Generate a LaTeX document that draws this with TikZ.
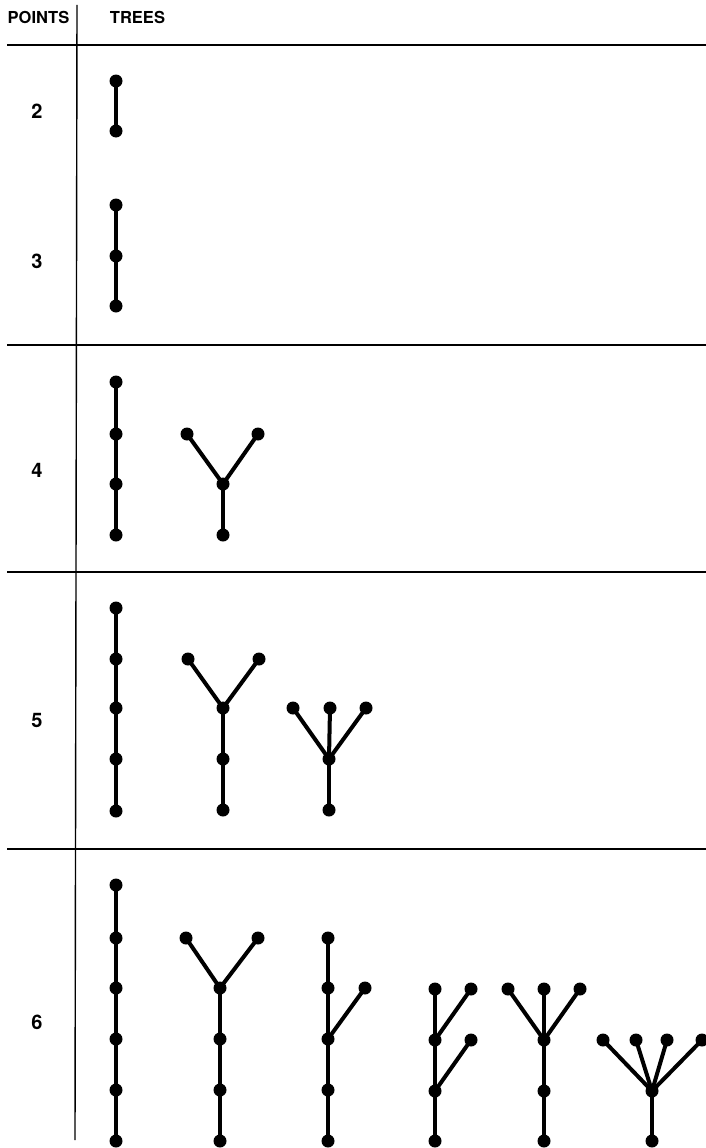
\documentclass[tikz,border=0pt]{standalone}
\usepackage{fontspec}
\newfontfamily\hvfont{TeX Gyre Heros}
\begin{document}
\begin{tikzpicture}[x=1pt,y=-1pt,
  dot/.style={circle,fill=black,inner sep=0pt,minimum size=13pt},
  edge/.style={line width=4pt},
  rule/.style={line width=1.4pt},
  lab/.style={font=\hvfont\bfseries\fontsize{16.5}{16.5}\selectfont,inner sep=0pt},
  num/.style={font=\hvfont\bfseries\fontsize{20}{20}\selectfont,inner sep=0pt}]
\useasboundingbox (0,0) rectangle (706,1148);
% rules
\coordinate (vt) at (77,5);
\coordinate (vb) at (75,1140);
\coordinate (h1l) at (7,45);  \coordinate (h1r) at (706,45);
\coordinate (h2l) at (7,345); \coordinate (h2r) at (706,345);
\coordinate (h3l) at (7,572); \coordinate (h3r) at (706,572);
\coordinate (h4l) at (7,849); \coordinate (h4r) at (706,849);
\draw[rule] (vt) -- (vb);
\draw[rule] (h1l) -- (h1r);
\draw[rule] (h2l) -- (h2r);
\draw[rule] (h3l) -- (h3r);
\draw[rule] (h4l) -- (h4r);
% labels
\node[lab] (tpoints) at (38.5,17.5) {POINTS};
\node[lab] (ttrees) at (137.5,17.5) {TREES};
\node[num] (n2) at (37,111) {2};
\node[num] (n3) at (37,261) {3};
\node[num] (n4) at (37,470) {4};
\node[num] (n5) at (37,720) {5};
\node[num] (n6) at (37,1022) {6};
% 2 points
\node[dot] (p1) at (116,81) {};
\node[dot] (p2) at (116,131) {};
\draw[edge] (p1.center) -- (p2.center);
% 3 points
\node[dot] (q1) at (116,205) {};
\node[dot] (q2) at (116,256) {};
\node[dot] (q3) at (116,306) {};
\draw[edge] (q1.center) -- (q2.center) -- (q3.center);
% 4 points
\node[dot] (r1) at (116,382) {};
\node[dot] (r2) at (116,434) {};
\node[dot] (r3) at (116,484) {};
\node[dot] (r4) at (116,535) {};
\draw[edge] (r1.center) -- (r2.center) -- (r3.center) -- (r4.center);
\node[dot] (ya) at (187,434) {};
\node[dot] (yb) at (258,434) {};
\node[dot] (yc) at (223,484) {};
\node[dot] (yd) at (223,535) {};
\draw[edge] (ya.center) -- (yc.center) -- (yb.center);
\draw[edge] (yc.center) -- (yd.center);
% 5 points
\node[dot] (s1) at (116,608) {};
\node[dot] (s2) at (116,659) {};
\node[dot] (s3) at (116,708) {};
\node[dot] (s4) at (116,759) {};
\node[dot] (s5) at (116,811) {};
\draw[edge] (s1.center) -- (s2.center) -- (s3.center) -- (s4.center) -- (s5.center);
\node[dot] (ta) at (188,659) {};
\node[dot] (tb) at (259,659) {};
\node[dot] (tc) at (223,708) {};
\node[dot] (td) at (223,759) {};
\node[dot] (te) at (223,810) {};
\draw[edge] (ta.center) -- (tc.center) -- (tb.center);
\draw[edge] (tc.center) -- (td.center) -- (te.center);
\node[dot] (ua) at (293,708) {};
\node[dot] (ub) at (330,708) {};
\node[dot] (uc) at (366,708) {};
\node[dot] (ud) at (329,759) {};
\node[dot] (ue) at (329,810) {};
\draw[edge] (ua.center) -- (ud.center);
\draw[edge] (ub.center) -- (ud.center);
\draw[edge] (uc.center) -- (ud.center);
\draw[edge] (ud.center) -- (ue.center);
% 6 points
\node[dot] (v1) at (116,885) {};
\node[dot] (v2) at (116,938) {};
\node[dot] (v3) at (116,988) {};
\node[dot] (v4) at (116,1039) {};
\node[dot] (v5) at (116,1090) {};
\node[dot] (v6) at (116,1141) {};
\draw[edge] (v1.center) -- (v2.center) -- (v3.center) -- (v4.center) -- (v5.center) -- (v6.center);
\node[dot] (wa) at (186,938) {};
\node[dot] (wb) at (258,938) {};
\node[dot] (wc) at (220,988) {};
\node[dot] (wd) at (220,1039) {};
\node[dot] (we) at (220,1090) {};
\node[dot] (wf) at (220,1141) {};
\draw[edge] (wa.center) -- (wc.center) -- (wb.center);
\draw[edge] (wc.center) -- (wd.center) -- (we.center) -- (wf.center);
\node[dot] (xa) at (328,938) {};
\node[dot] (xb) at (328,988) {};
\node[dot] (xc) at (328,1039) {};
\node[dot] (xd) at (328,1090) {};
\node[dot] (xe) at (328,1141) {};
\node[dot] (xf) at (365,988) {};
\draw[edge] (xa.center) -- (xb.center) -- (xc.center) -- (xd.center) -- (xe.center);
\draw[edge] (xc.center) -- (xf.center);
\node[dot] (za) at (435,989) {};
\node[dot] (zb) at (435,1040) {};
\node[dot] (zc) at (435,1091) {};
\node[dot] (zd) at (435,1141) {};
\node[dot] (ze) at (471,989) {};
\node[dot] (zf) at (471,1040) {};
\draw[edge] (za.center) -- (zb.center) -- (zc.center) -- (zd.center);
\draw[edge] (zb.center) -- (ze.center);
\draw[edge] (zc.center) -- (zf.center);
\node[dot] (ma) at (508,989) {};
\node[dot] (mb) at (544,989) {};
\node[dot] (mc) at (580,989) {};
\node[dot] (md) at (544,1040) {};
\node[dot] (me) at (544,1091) {};
\node[dot] (mf) at (544,1141) {};
\draw[edge] (ma.center) -- (md.center);
\draw[edge] (mb.center) -- (md.center);
\draw[edge] (mc.center) -- (md.center);
\draw[edge] (md.center) -- (me.center) -- (mf.center);
\node[dot] (na) at (603,1040) {};
\node[dot] (nb) at (636,1040) {};
\node[dot] (nc) at (667,1040) {};
\node[dot] (nd) at (702,1040) {};
\node[dot] (ne) at (652,1091) {};
\node[dot] (nf) at (652,1141) {};
\draw[edge] (na.center) -- (ne.center);
\draw[edge] (nb.center) -- (ne.center);
\draw[edge] (nc.center) -- (ne.center);
\draw[edge] (nd.center) -- (ne.center);
\draw[edge] (ne.center) -- (nf.center);
\end{tikzpicture}
\end{document}
